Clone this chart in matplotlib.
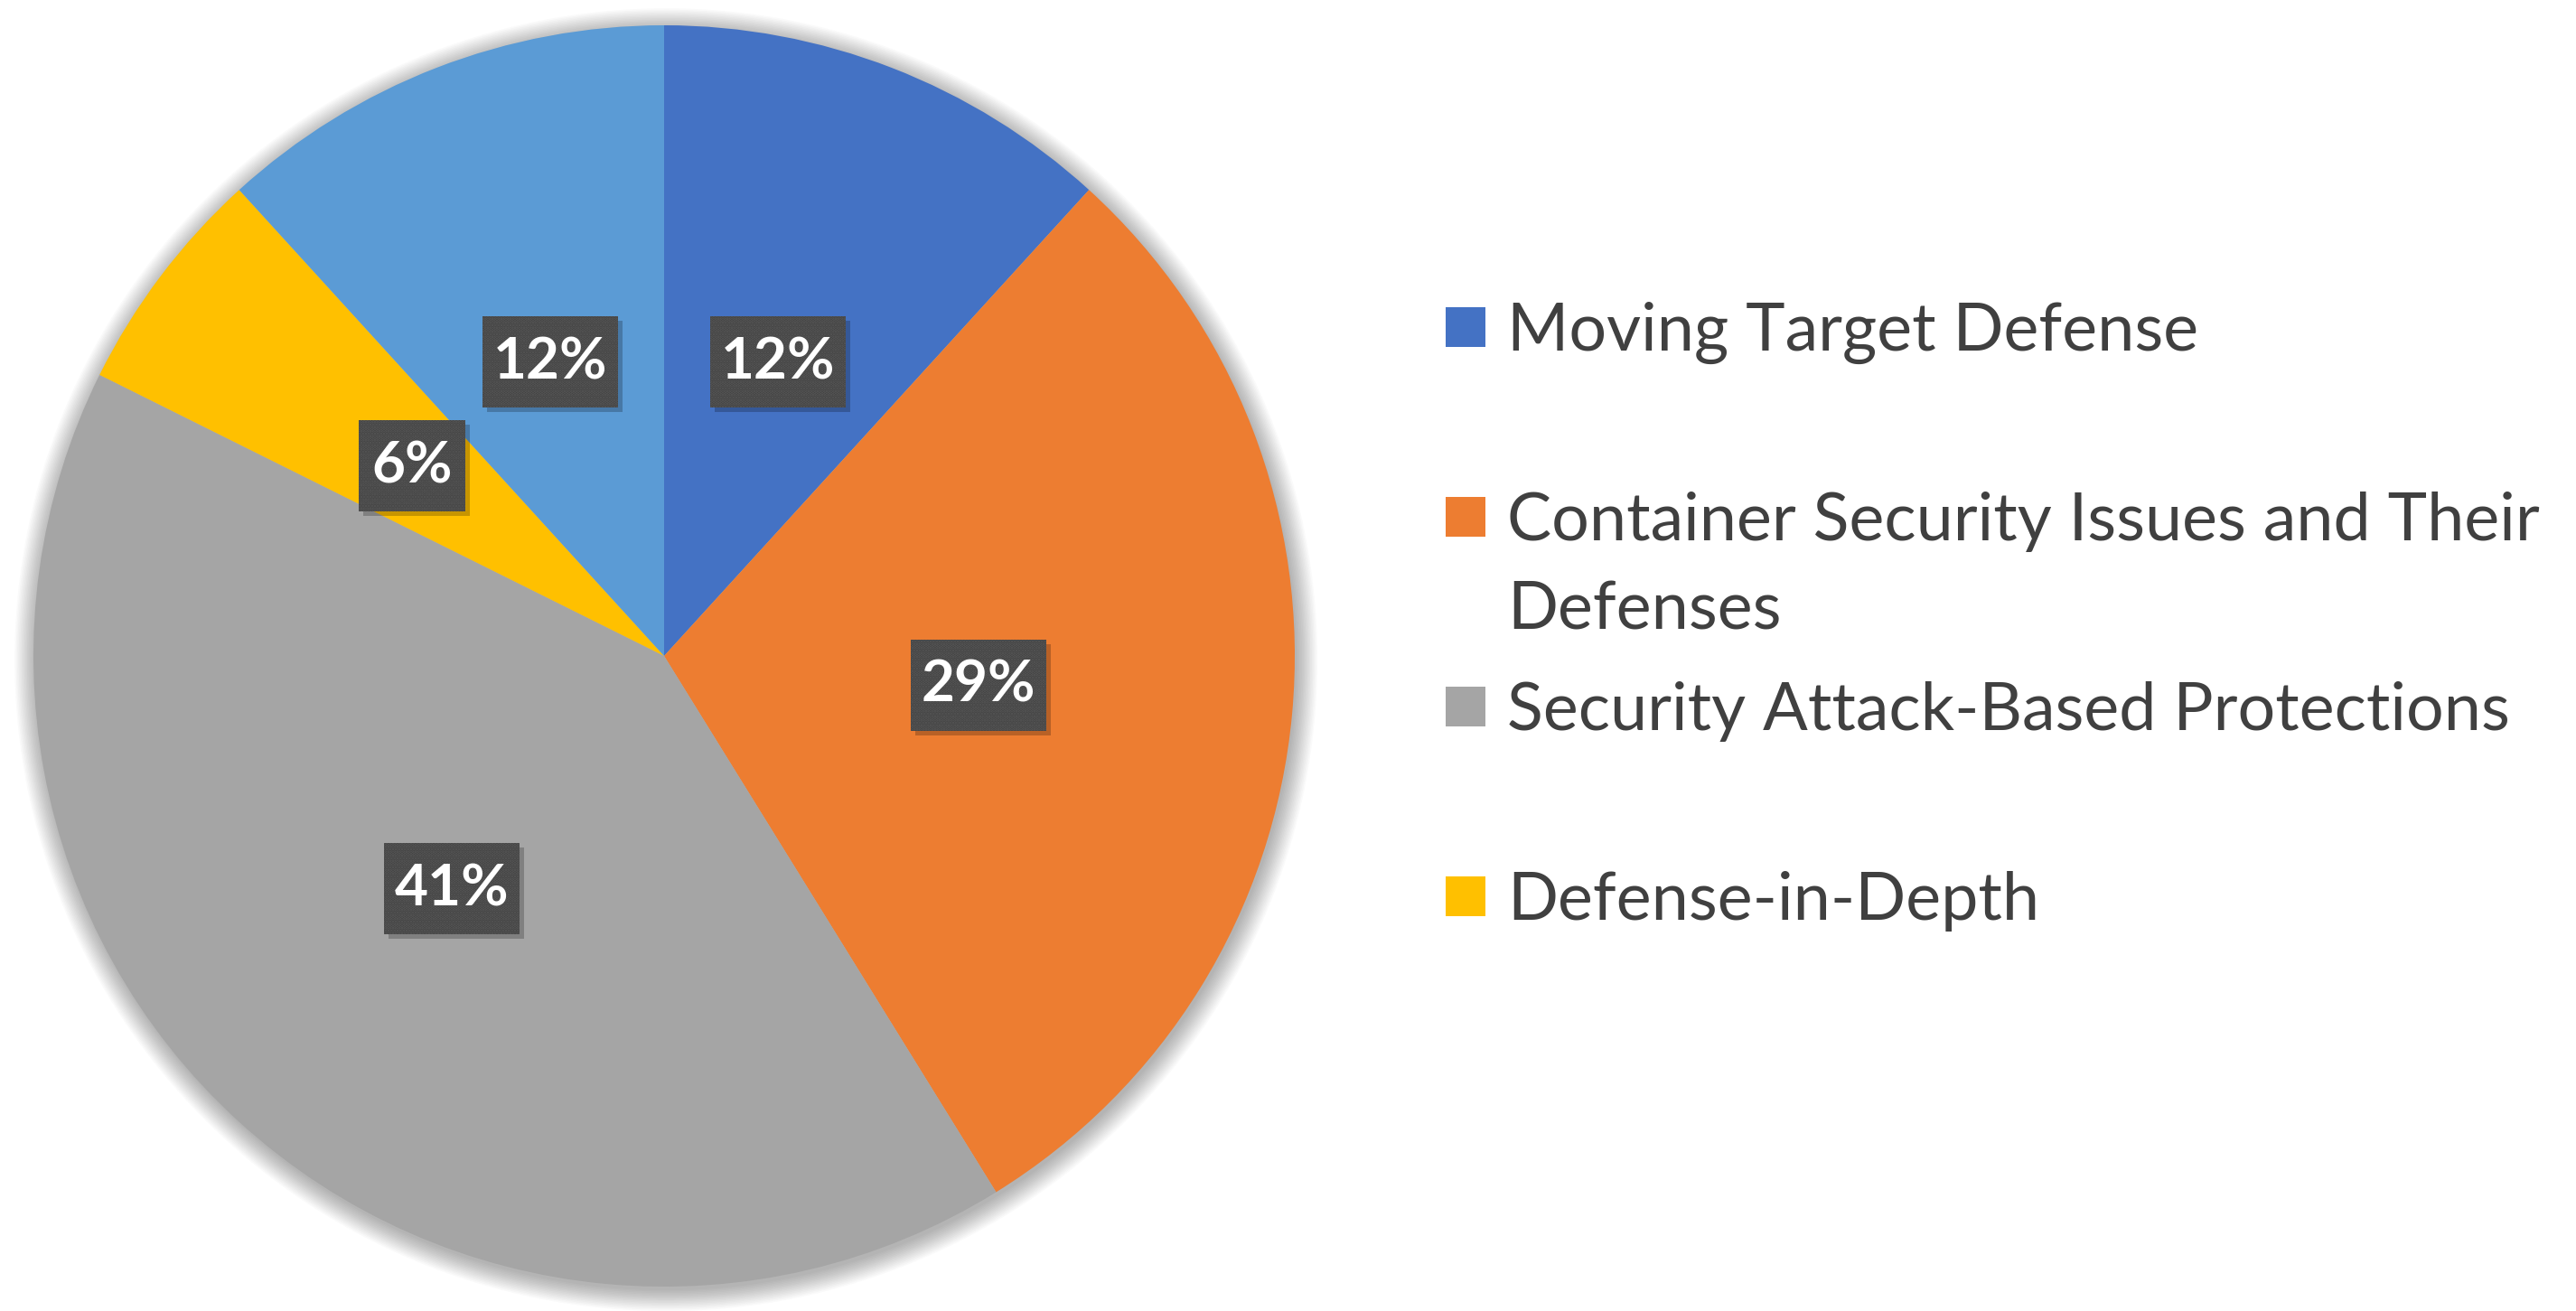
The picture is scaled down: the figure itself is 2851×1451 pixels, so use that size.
import matplotlib.pyplot as plt
from matplotlib.patches import Circle, Rectangle
from matplotlib import transforms

# share of papers per defense category (counts)
legend_labels = ['Moving Target Defense',
                 'Container Security Issues and Their\nDefenses',
                 'Security Attack-Based Protections',
                 'Defense-in-Depth']
paper_counts = [4, 10, 14, 2, 4]
slice_colors = ['#4472C4', '#ED7D31', '#A5A5A5', '#FFC000', '#5B9BD5']

plt.rcParams['font.family'] = ['Lato', 'DejaVu Sans']
plt.rcParams['hatch.linewidth'] = 1.8

W, H = 2851, 1451
fig = plt.figure(figsize=(W / 100, H / 100), dpi=100)

cx, cy, R = 735, 726, 698   # pie centre / radius in pixels
lim = 1.06
ax = fig.add_axes([(cx - R * lim) / W, (H - cy - R * lim) / H,
                   2 * R * lim / W, 2 * R * lim / H])

# soft shadow round the pie
for k in range(16):
    ax.add_patch(Circle((0.003, -0.006), 1 + 0.0022 * k, color='black',
                        alpha=0.02, lw=0, zorder=0))

wedges, texts, autotexts = ax.pie(paper_counts, colors=slice_colors,
                                  startangle=90, counterclock=False,
                                  autopct=lambda p: f'{p:.0f}%',
                                  pctdistance=0.5, radius=1,
                                  wedgeprops=dict(linewidth=0, zorder=1))

# dark label boxes (size in inches at 100 dpi), placed on the autopct spots
bw, bh = 1.50, 1.01
for t in autotexts:
    t.set_fontsize(46)
    t.set_fontweight('bold')
    t.set_color('white')
    t.set_zorder(5)
    x, y = t.get_position()
    w = bw if len(t.get_text()) > 2 else 1.18
    anchor = transforms.ScaledTranslation(x, y, ax.transData)
    ax.add_patch(Rectangle((-w / 2 + 0.05, -bh / 2 - 0.05), w, bh,
                           transform=fig.dpi_scale_trans + anchor,
                           facecolor='black', alpha=0.22, lw=0, zorder=3))
    ax.add_patch(Rectangle((-w / 2, -bh / 2), w, bh,
                           transform=fig.dpi_scale_trans + anchor,
                           facecolor='#404040', edgecolor='#585858',
                           lw=0, hatch='.....', zorder=4))

ax.set_xlim(-lim, lim)
ax.set_ylim(-lim, lim)
ax.set_aspect('equal')
ax.axis('off')

# legend drawn by hand so the wrapped entry keeps Excel's even spacing
for i, lab in enumerate(legend_labels):
    yc = 1089 - 210 * i
    fig.patches.append(Rectangle((1600 / W, (yc - 22) / H), 44 / W, 44 / H,
                                 transform=fig.transFigure,
                                 color=slice_colors[i], lw=0))
    for j, line in enumerate(lab.split('\n')):
        fig.text(1668 / W, (yc - 98 * j - 26) / H, line, va='baseline',
                 ha='left', fontsize=53, color='#404040')

fig.savefig('out.png', dpi=100, facecolor='white')
